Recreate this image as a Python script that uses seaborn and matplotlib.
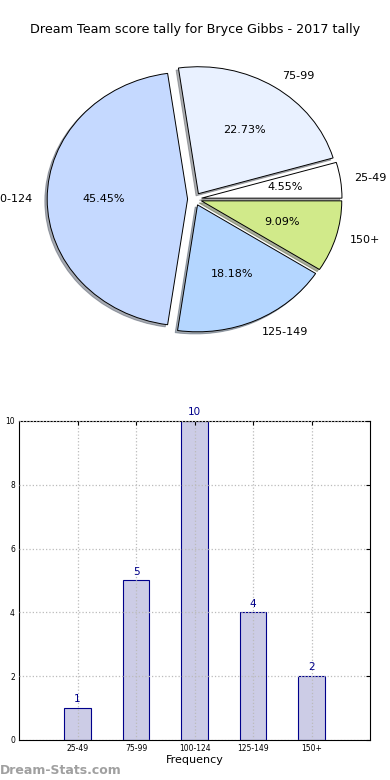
import matplotlib
matplotlib.use("Agg")
import matplotlib.pyplot as plt
import seaborn as sns
import pandas as pd

# Score tally data
ranges = ['25-49', '75-99', '100-124', '125-149', '150+']
counts = [1, 5, 10, 4, 2]
pie_colors = ['#ffffff', '#e9f1ff', '#c5d9ff', '#b4d6ff', '#d1ea8a']
explode = [0.05, 0.05, 0.05, 0.05, 0.05]

sns.set_style('white')
plt.rcParams['font.family'] = ['DejaVu Sans']
plt.rcParams['text.color'] = 'black'
plt.rcParams['xtick.color'] = 'black'
plt.rcParams['ytick.color'] = 'black'
plt.rcParams['axes.labelcolor'] = 'black'

fig = plt.figure(figsize=(3.9, 7.8), dpi=100)

# Pie of score ranges
ax1 = fig.add_axes([0.049, 0.5413, 0.9, 0.407])
ax1.pie(counts, labels=ranges, colors=pie_colors, explode=explode,
        autopct='%1.2f%%', shadow={'ox': -0.012, 'oy': -0.012, 'shade': 0.6},
        startangle=0,
        wedgeprops={'edgecolor': 'black', 'linewidth': 0.7},
        textprops={'fontsize': 8, 'color': 'black'})
ax1.set_aspect('auto')
ax1.set_xlim(-1.25, 1.25)
ax1.set_ylim(-1.25, 1.25)
fig.text(0.5, 1 - 30 / 780, 'Dream Team score tally for Bryce Gibbs - 2017 tally',
         ha='center', va='center', fontsize=9.2)

# Bar chart of the same counts
df = pd.DataFrame({'range': ranges, 'count': counts})
ax2 = fig.add_axes([0.049, 0.0513, 0.9, 0.409])
sns.barplot(data=df, x='range', y='count', ax=ax2, width=0.45,
            color='#ccccE6', edgecolor='#00008b', linewidth=0.8, saturation=1)
for i, c in enumerate(counts):
    ax2.text(i, c + 0.12, str(c), ha='center', va='bottom', color='#00008b', fontsize=7.5)
ax2.set_xlim(-1, 5)
ax2.set_ylim(0, 10)
ax2.set_yticks(range(0, 11, 2))
ax2.grid(True, linestyle=':', color='#bbbbbb', linewidth=0.9)
ax2.set_axisbelow(False)
for s in ax2.spines.values():
    s.set_color('black')
    s.set_linewidth(0.8)
ax2.tick_params(axis='both', labelsize=5.5, direction='in', length=3, pad=3,
                top=True, right=True)
ax2.set_xlabel('Frequency', fontsize=8, labelpad=1)
ax2.set_ylabel('Score Intervals', fontsize=8, labelpad=6)

fig.text(0.0, 1 - 770 / 780, 'Dream-Stats.com', ha='left', va='center',
         fontsize=9, fontweight='bold', color='#a0a0a0')

fig.savefig('out.png', dpi=100)
